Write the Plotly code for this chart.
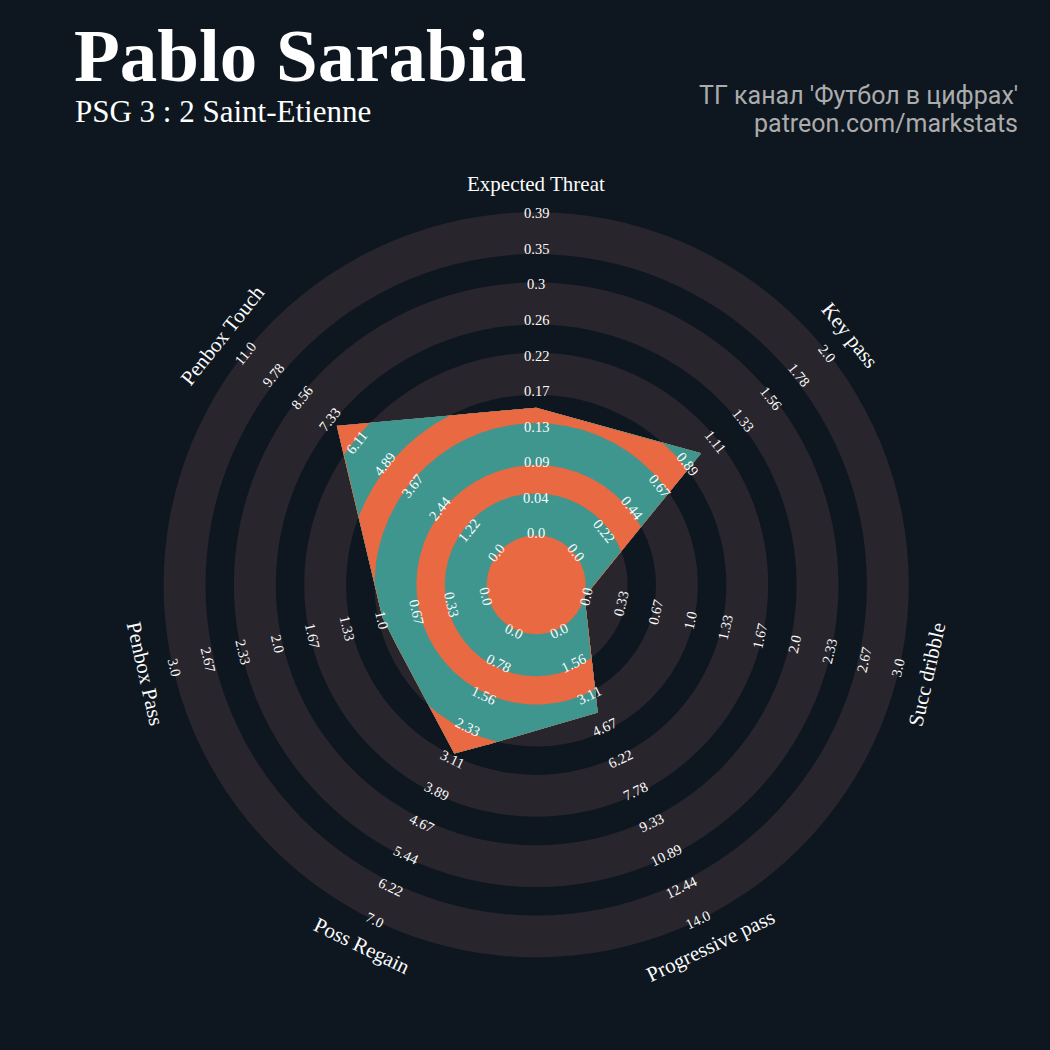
import numpy as np
import plotly.graph_objects as go

# ---------------- data ----------------
params = ["Expected Threat", "Key pass", "Succ dribble", "Progressive pass",
          "Poss Regain", "Penbox Pass", "Penbox Touch"]
values = [0.154, 1.0, 0.0, 4.0, 3.0, 1.0, 7.0]
low = [0.0, 0.0, 0.0, 0.0, 0.0, 0.0, 0.0]
high = [0.39, 2.0, 3.0, 14.0, 7.0, 3.0, 11.0]

ticks_xt = ["0.0", "0.04", "0.09", "0.13", "0.17", "0.22", "0.26", "0.3", "0.35", "0.39"]
ticks_kp = ["0.0", "0.22", "0.44", "0.67", "0.89", "1.11", "1.33", "1.56", "1.78", "2.0"]
ticks_sd = ["0.0", "0.33", "0.67", "1.0", "1.33", "1.67", "2.0", "2.33", "2.67", "3.0"]
ticks_pp = ["0.0", "1.56", "3.11", "4.67", "6.22", "7.78", "9.33", "10.89", "12.44", "14.0"]
ticks_pr = ["0.0", "0.78", "1.56", "2.33", "3.11", "3.89", "4.67", "5.44", "6.22", "7.0"]
ticks_pbp = ["0.0", "0.33", "0.67", "1.0", "1.33", "1.67", "2.0", "2.33", "2.67", "3.0"]
ticks_pbt = ["0.0", "1.22", "2.44", "3.67", "4.89", "6.11", "7.33", "8.56", "9.78", "11.0"]
tick_lists = [ticks_xt, ticks_kp, ticks_sd, ticks_pp, ticks_pr, ticks_pbp, ticks_pbt]

title = "Pablo Sarabia"
subtitle = "PSG 3 : 2 Saint-Etienne"
credit1 = "ТГ канал 'Футбол в цифрах'"
credit2 = "patreon.com/markstats"

# ---------------- style / geometry ----------------
BG = "#0e1720"
RING = "#28252c"
TEAL = "#3e968f"
ORANGE = "#e86942"
TXT = "#fcfcfc"
CX, CY = 536.2, 584.8
R0 = 49.5          # center circle radius (value = low)
W_LIGHT = 41.9     # light ring width
W_DARK = 28.4      # dark ring width
N_LIGHT = 5

bounds = [R0]
kinds = []
for i in range(N_LIGHT):
    bounds.append(bounds[-1] + W_LIGHT); kinds.append("light")
    if i < N_LIGHT - 1:
        bounds.append(bounds[-1] + W_DARK); kinds.append("dark")
R1 = bounds[-1]

n = len(params)
angles = np.deg2rad(90 - np.arange(n) * 360.0 / n)


def val_to_r(v, lo, hi):
    return R0 + (v - lo) / (hi - lo) * (R1 - R0)


def to_xy(r, a):
    return CX + r * np.cos(a), CY - r * np.sin(a)


fig = go.Figure()
shapes = []

for k in range(len(bounds) - 1, 0, -1):
    r = bounds[k]
    col = RING if kinds[k - 1] == "light" else BG
    shapes.append(dict(type="circle", xref="x", yref="y", layer="below",
                       x0=CX - r, x1=CX + r, y0=CY - r, y1=CY + r,
                       fillcolor=col, line=dict(width=0)))
shapes.append(dict(type="circle", xref="x", yref="y", layer="below",
                   x0=CX - R0, x1=CX + R0, y0=CY - R0, y1=CY + R0,
                   fillcolor=BG, line=dict(width=0)))

radii = [val_to_r(v, lo, hi) for v, lo, hi in zip(values, low, high)]
vx, vy = to_xy(np.array(radii), angles)
px, py = [], []
for i in range(n):
    j = (i + 1) % n
    t = np.linspace(0, 1, 240, endpoint=False)
    px.append(vx[i] + t * (vx[j] - vx[i]))
    py.append(vy[i] + t * (vy[j] - vy[i]))
px = np.concatenate(px); py = np.concatenate(py)
dx, dy = px - CX, py - CY
rr = np.hypot(dx, dy)

layer_list = [(bounds[k], TEAL if kinds[k - 1] == "light" else ORANGE)
              for k in range(len(bounds) - 1, 0, -1)]
layer_list.append((R0, ORANGE))
for R, col in layer_list:
    s = np.minimum(1.0, R / rr)
    xs = CX + dx * s
    ys = CY + dy * s
    fig.add_trace(go.Scatter(x=np.append(xs, xs[0]), y=np.append(ys, ys[0]),
                             mode="lines", fill="toself", fillcolor=col,
                             line=dict(width=0, color=col), hoverinfo="skip",
                             showlegend=False))

annotations = []


def rot_for(a_deg):
    rot = 90 - a_deg
    while rot > 90:
        rot -= 180
    while rot <= -90:
        rot += 180
    return rot


LR0, LR1 = 51.5, 371.5
for i in range(n):
    a = angles[i]
    rot = rot_for(np.rad2deg(a))
    labs = tick_lists[i]
    for k, lab in enumerate(labs):
        r = LR0 + k / (len(labs) - 1) * (LR1 - LR0)
        x, y = to_xy(r, a)
        annotations.append(dict(x=x, y=y, xref="x", yref="y", text=lab,
                                showarrow=False, textangle=rot,
                                xanchor="center", yanchor="middle",
                                font=dict(family="Liberation Serif", size=14.5, color=TXT)))

for i in range(n):
    a = angles[i]
    rot = rot_for(np.rad2deg(a))
    x, y = to_xy(401.0, a)
    annotations.append(dict(x=x, y=y, xref="x", yref="y", text=params[i],
                            showarrow=False, textangle=rot,
                            xanchor="center", yanchor="middle",
                            font=dict(family="Liberation Serif", size=21, color=TXT)))

annotations.append(dict(x=72, y=55, xref="x", yref="y", text="<b>" + title + "</b>",
                        showarrow=False, xanchor="left", yanchor="middle",
                        font=dict(family="Liberation Serif", size=75, color="#ffffff")))
annotations.append(dict(x=73, y=111.5, xref="x", yref="y", text=subtitle,
                        showarrow=False, xanchor="left", yanchor="middle",
                        font=dict(family="Liberation Serif", size=31, color="#ffffff")))
annotations.append(dict(x=1020, y=95, xref="x", yref="y", text=credit1,
                        showarrow=False, xanchor="right", yanchor="middle",
                        font=dict(family="Roboto", size=25, color="#acacac")))
annotations.append(dict(x=1020, y=123.5, xref="x", yref="y", text=credit2,
                        showarrow=False, xanchor="right", yanchor="middle",
                        font=dict(family="Roboto", size=25, color="#acacac")))

fig.update_layout(
    width=1050, height=1050,
    margin=dict(l=0, r=0, t=0, b=0),
    paper_bgcolor=BG, plot_bgcolor=BG,
    xaxis=dict(range=[0, 1050], visible=False, fixedrange=True, domain=[0, 1]),
    yaxis=dict(range=[1050, 0], visible=False, fixedrange=True, domain=[0, 1]),
    shapes=shapes, annotations=annotations, showlegend=False,
)

fig.write_html("out.html", config={"displayModeBar": False},
               post_script="document.body.style.margin='0';"
                           "document.body.style.background='" + BG + "';")
